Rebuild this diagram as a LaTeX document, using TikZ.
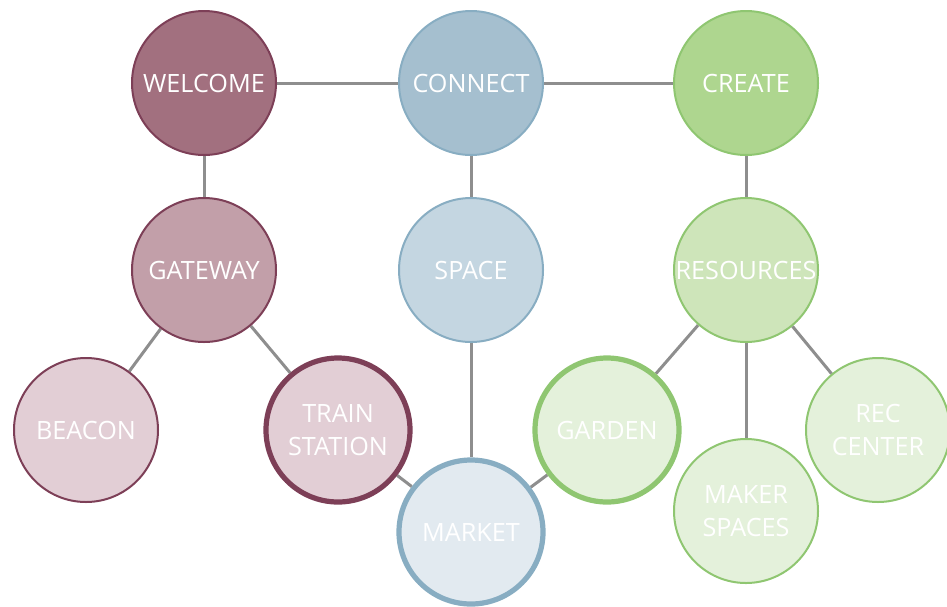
\documentclass[tikz,border=0pt]{standalone}
\usepackage{fontspec}
\setmainfont{Open Sans}
\usepackage{xcolor}
\usetikzlibrary{backgrounds}

\definecolor{wine}{HTML}{7D3F57}
\definecolor{wineA}{HTML}{A2707F}
\definecolor{wineB}{HTML}{C29FA9}
\definecolor{wineC}{HTML}{E2CED5}
\definecolor{sea}{HTML}{88ADC2}
\definecolor{seaA}{HTML}{A5BFCF}
\definecolor{seaB}{HTML}{C4D6E1}
\definecolor{seaC}{HTML}{E2EAF0}
\definecolor{leaf}{HTML}{8FC671}
\definecolor{leafA}{HTML}{AED68F}
\definecolor{leafB}{HTML}{CEE5BA}
\definecolor{leafC}{HTML}{E4F1DB}
\definecolor{wire}{HTML}{8E8E8E}

\tikzset{
    bub/.style={circle,minimum size=72pt,inner sep=0pt,line width=1pt,
        text=white,font=\fontsize{12.6}{16.5}\selectfont,align=center},
    fat/.style={line width=2.6pt},
    link/.style={draw=wire,line width=1.5pt}
}

\begin{document}
\begin{tikzpicture}[x=0.5pt,y=-0.5pt]
    \useasboundingbox (0,0) rectangle (947,606);
    \node[bub,fill=wineA,draw=wine](welcome) at (204,83) {WELCOME};
	\node[bub,fill=seaA,draw=sea](connect) at (471,83) {CONNECT};
	\node[bub,fill=leafA,draw=leaf](create) at (746,83) {CREATE};
	\node[bub,fill=wineB,draw=wine](gateway) at (204,270) {GATEWAY};
	\node[bub,fill=seaB,draw=sea](space) at (471,270) {SPACE};
	\node[bub,fill=leafB,draw=leaf](resources) at (746,270) {RESOURCES};
	\node[bub,fill=wineC,draw=wine](beacon) at (86,430) {BEACON};
	\node[bub,fat,fill=wineC,draw=wine](train) at (338,430) {TRAIN\\STATION};
	\node[bub,fat,fill=seaC,draw=sea](market) at (471,532) {MARKET};
	\node[bub,fat,fill=leafC,draw=leaf](garden) at (607,430) {GARDEN};
	\node[bub,fill=leafC,draw=leaf](maker) at (746,511) {MAKER\\SPACES};
	\node[bub,fill=leafC,draw=leaf](rec) at (878,430) {REC\\CENTER};
	\begin{scope}[on background layer]
	\draw[link] (welcome) -- (connect);
	\draw[link] (connect) -- (create);
	\draw[link] (welcome) -- (gateway);
	\draw[link] (connect) -- (space);
	\draw[link] (create) -- (resources);
	\draw[link] (gateway) -- (beacon);
	\draw[link] (gateway) -- (train);
	\draw[link] (space) -- (market);
	\draw[link] (train) -- (market);
	\draw[link] (garden) -- (market);
	\draw[link] (resources) -- (garden);
	\draw[link] (resources) -- (maker);
	\draw[link] (resources) -- (rec);
	\end{scope}
	\end{tikzpicture}
\end{document}
